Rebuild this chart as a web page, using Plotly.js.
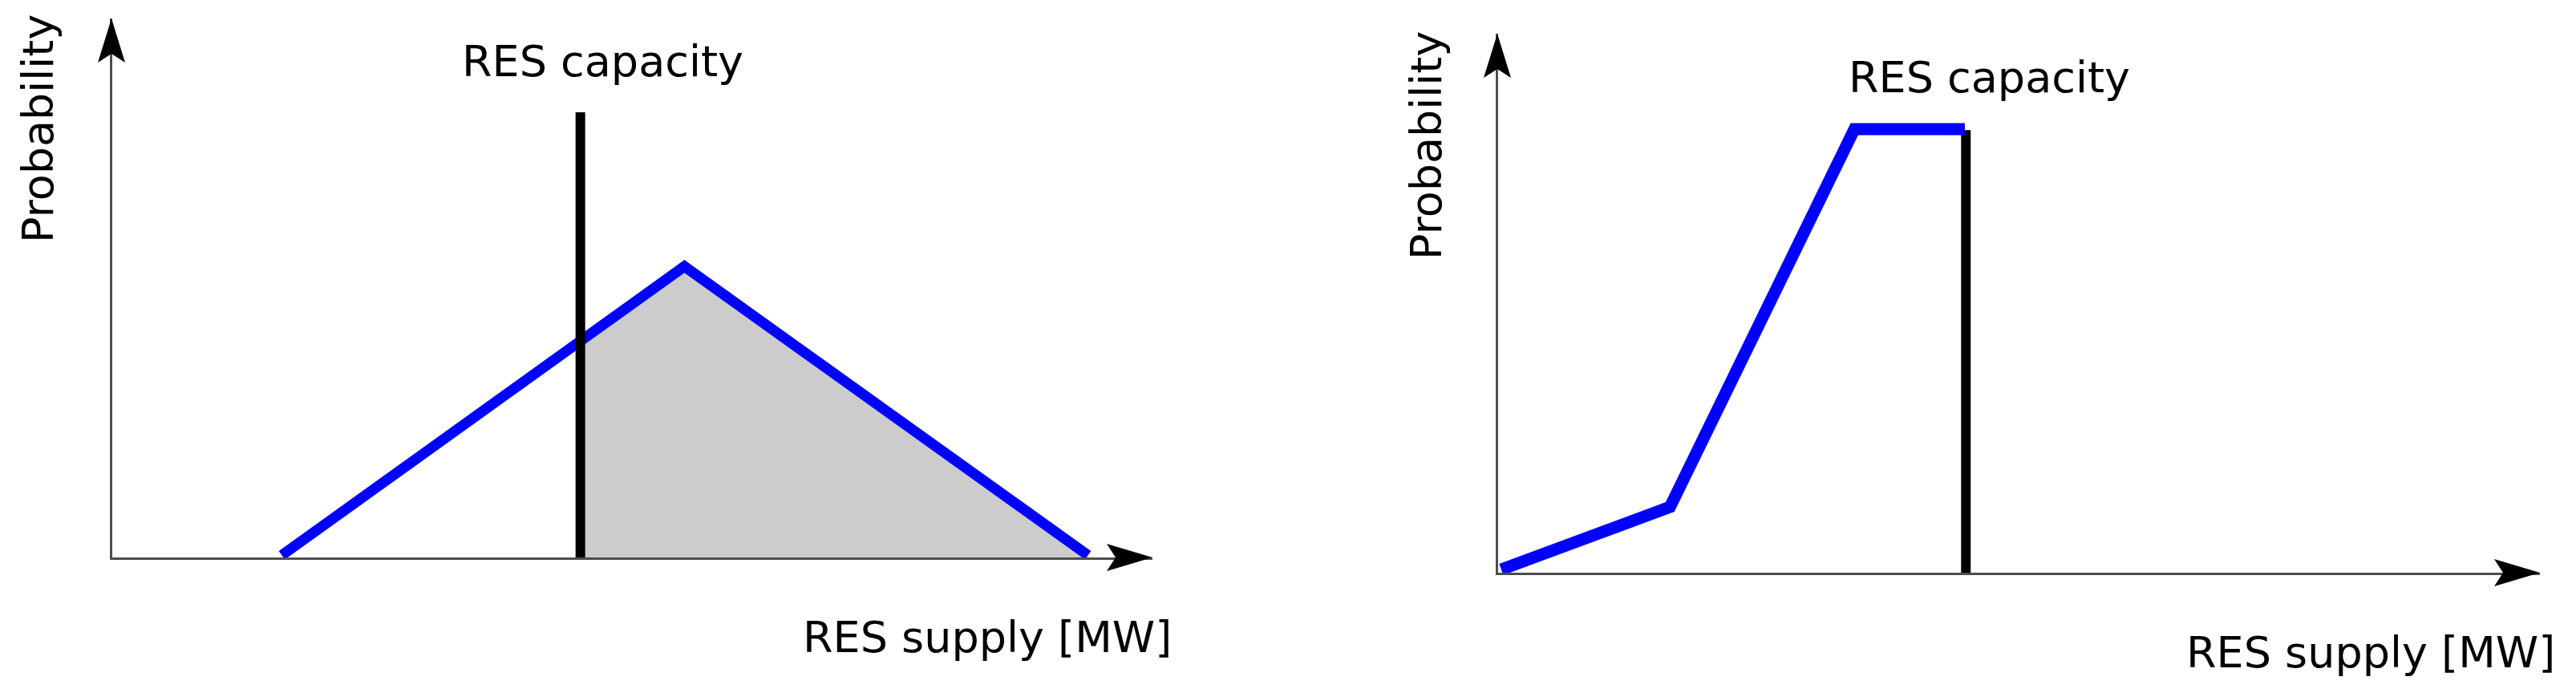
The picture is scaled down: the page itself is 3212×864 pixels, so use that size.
<!DOCTYPE html>
<html>
<head>
<meta charset="utf-8">
<script src="https://cdn.plot.ly/plotly-3.0.1.min.js"></script>
<style>
  html, body { margin: 0; padding: 0; background: #ffffff; }
  #chart { width: 3212px; height: 864px; }
</style>
</head>
<body>
<div id="chart"></div>
<script>
// ---- Data (schematic units) ----
// Left panel: triangular RES supply distribution
const leftSupply = [16.3, 55.0, 93.8];
const leftProb = [0.4, 54.0, 0.4];
const leftCapacity = 45.0;
const leftCapacityTop = 82.6;
// Shaded area above capacity
const leftShadeX = [45.0, 45.0, 55.0, 93.8];
const leftShadeY = [0.0, 40.2, 54.0, 0.0];

// Right panel: distribution truncated at capacity
const rightSupply = [0.3, 16.5, 34.2, 44.8];
const rightProb = [0.6, 12.2, 82.3, 82.3];
const rightCapacity = 44.9;
const rightCapacityTop = 82.1;

// Texts
const capacityLabel = "RES capacity";
const xLabel = "RES supply [MW]";
const yLabel = "Probability";

// ---- Layout helpers ----
const W = 3212, H = 864;
const px = v => v / W;          // pixel -> paper x
const py = v => (H - v) / H;    // pixel -> paper y (from top)

const FONT = "DejaVu Sans, Verdana, sans-serif";
const BLUE = "#0000ff";
const AXIS = "#4d4d4d";

const traces = [
  // Left panel
  { x: leftShadeX, y: leftShadeY, xaxis: "x", yaxis: "y", type: "scatter", mode: "lines",
    fill: "toself", fillcolor: "#cccccc", line: { width: 0, color: "rgba(0,0,0,0)" },
    hoverinfo: "skip", showlegend: false },
  { x: leftSupply, y: leftProb, xaxis: "x", yaxis: "y", type: "scatter", mode: "lines",
    line: { color: BLUE, width: 13 }, cliponaxis: false, showlegend: false },
  { x: [leftCapacity, leftCapacity], y: [0, leftCapacityTop], xaxis: "x", yaxis: "y",
    type: "scatter", mode: "lines", line: { color: "#000000", width: 12 },
    cliponaxis: false, showlegend: false },
  // Right panel
  { x: [rightCapacity, rightCapacity], y: [0, rightCapacityTop], xaxis: "x2", yaxis: "y2",
    type: "scatter", mode: "lines", line: { color: "#000000", width: 12 },
    cliponaxis: false, showlegend: false },
  { x: rightSupply, y: rightProb, xaxis: "x2", yaxis: "y2", type: "scatter", mode: "lines",
    line: { color: BLUE, width: 15 }, cliponaxis: false, showlegend: false }
];

const axisCommon = {
  showgrid: false, zeroline: false, showticklabels: false, ticks: "",
  showline: true, linecolor: AXIS, linewidth: 3, fixedrange: true
};

const upArrow = "M0,0 L-17,-55 L0,-44 L17,-55 Z";
const rightArrow = "M0,0 L-57,17 L-46,0 L-57,-17 Z";

function arrowShape(xPix, yPix, path) {
  return { type: "path", xref: "paper", yref: "paper", xsizemode: "pixel", ysizemode: "pixel",
           xanchor: px(xPix), yanchor: py(yPix), path: path, fillcolor: "#000000",
           line: { width: 0 }, layer: "above" };
}

function textAnn(text, x, y, angle) {
  return { text: text, xref: "paper", yref: "paper", x: px(x), y: py(y),
           xanchor: "center", yanchor: "middle", showarrow: false, textangle: angle || 0,
           font: { family: FONT, size: 54, color: "#000000" } };
}

const layout = {
  width: W, height: H, autosize: false,
  margin: { l: 0, r: 0, t: 0, b: 0, pad: 0 },
  paper_bgcolor: "#ffffff", plot_bgcolor: "rgba(0,0,0,0)",
  showlegend: false,
  xaxis: Object.assign({}, axisCommon, { domain: [px(140), px(1437)], range: [0, 100], anchor: "y" }),
  yaxis: Object.assign({}, axisCommon, { domain: [py(695), py(23)], range: [0, 100], anchor: "x" }),
  xaxis2: Object.assign({}, axisCommon, { domain: [px(1868), px(3167)], range: [0, 100], anchor: "y2" }),
  yaxis2: Object.assign({}, axisCommon, { domain: [py(714), py(42)], range: [0, 100], anchor: "x2" }),
  shapes: [
    arrowShape(139, 23, upArrow),
    arrowShape(1437, 695, rightArrow),
    arrowShape(1867, 42, upArrow),
    arrowShape(3167, 714, rightArrow)
  ],
  annotations: [
    textAnn(capacityLabel, 751, 77),
    textAnn(xLabel, 1231, 794),
    textAnn(yLabel, 48, 161, -90),
    textAnn(capacityLabel, 2480, 96),
    textAnn(xLabel, 2956, 813),
    textAnn(yLabel, 1778, 182, -90)
  ]
};

Plotly.newPlot("chart", traces, layout, { displayModeBar: false, staticPlot: true });
</script>
</body>
</html>
